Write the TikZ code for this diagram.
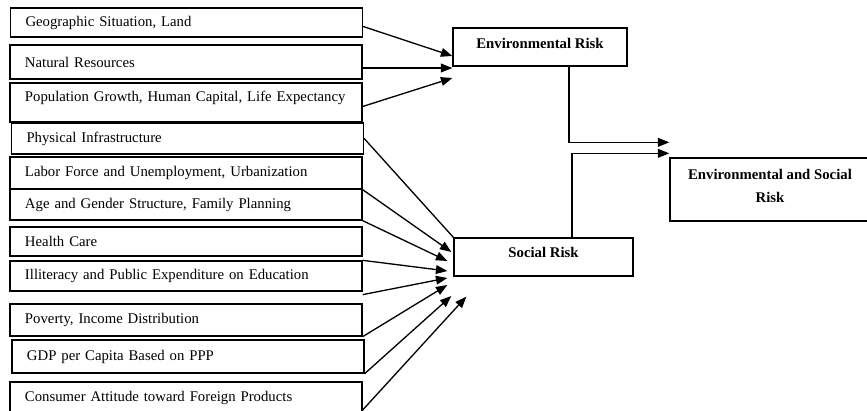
\documentclass[tikz,border=0pt]{standalone}
\usepackage{fontspec}
\setmainfont{Liberation Serif}
\usetikzlibrary{arrows.meta,calc}
\newcommand{\px}{0.02cm}

\begin{document}
\begin{tikzpicture}[x=\px,y=-\px,line width=0.75pt,
    font=\fontsize{8.4pt}{10pt}\selectfont,
    >={Triangle[length=6.5pt,width=5pt]}]

      \clip (0,0) rectangle (867,411);

      \begin{scope}[every node/.style={draw, minimum width=352*\px, text width=322*\px,
          inner xsep=15*\px, align=left,
          execute at begin node=\hbox\bgroup, execute at end node=\egroup}]
        \node[minimum height=29*\px] (f1)  at (186.5,22.5) {Geographic Situation, Land};
        \node[minimum height=34*\px] (f2)  at (186,62)     {Natural Resources};
        \node[minimum height=39*\px, text depth=12*\px] (f3) at (186,102.5) {Population Growth, Human Capital, Life Expectancy};
        \node[minimum height=31*\px] (f4)  at (187.5,138.5) {Physical Infrastructure};
        \node[minimum height=32*\px] (f5)  at (186,173)    {Labor Force and Unemployment, Urbanization};
        \node[minimum height=31*\px] (f6)  at (186,204.5)  {Age and Gender Structure, Family Planning};
        \node[minimum height=29*\px] (f7)  at (186,241.5)  {Health Care};
        \node[minimum height=30*\px] (f8)  at (186,276)    {Illiteracy and Public Expenditure on Education};
        \node[minimum height=32*\px] (f9)  at (186,320)    {Poverty, Income Distribution};
        \node[minimum height=33*\px] (f10) at (188,356.5)  {GDP per Capita Based on PPP};
        \node[minimum height=32*\px] (f11) at (186,398)    {Consumer Attitude toward Foreign Products};
      \end{scope}

      \begin{scope}[every node/.style={draw, font=\fontsize{8.4pt}{13pt}\selectfont\bfseries, align=center}]
        \node[minimum width=174*\px, minimum height=38*\px, text depth=8*\px] (env) at (540,47) {Environmental Risk};
        \node[minimum width=179*\px, minimum height=38*\px, text depth=10*\px] (soc) at (543.5,257) {Social Risk};
        \node[minimum width=200*\px, minimum height=63*\px, text depth=8*\px] (es) at (770,189.5) {Environmental and Social\\Risk};
      \end{scope}

      \begin{scope}[every edge/.style={draw,->}]
        \path ($(f1.east)+(0,4)$)  edge ($(env.west)+(0,9)$);
        \path ($(f2.east)+(0,6)$)  edge ($(env.west)+(0,21)$);
        \path ($(f3.east)+(0,4)$)  edge ($(env.west)+(0,31)$);

        \path (f4.east)            edge[-] (soc.north west);
        \path (f5.south east)      edge ($(soc.west)+(-2,-5)$);
        \path (f6.south east)      edge ($(soc.west)+(-6,4)$);
        \path (f8.north east)      edge ($(soc.west)+(-6,14)$);
        \path ($(f8.south east)+(0,3)$) edge ($(soc.west)+(-6,21)$);
        \path (f9.south east)      edge ($(soc.west)+(-6,28)$);
        \path (f10.south east)     edge ($(soc.west)+(-2,39)$);
        \path ($(f11.east)+(0,12)$) edge ($(soc.south west)+(13,20)$);
      \end{scope}

      \draw[->] ($(env.south)+(29,0)$) |- ($(es.north west)+(0,-15)$);
      \draw[->] ($(soc.north)+(28.5,0)$) |- ($(es.north west)+(0,-4)$);

    \end{tikzpicture}
\end{document}
